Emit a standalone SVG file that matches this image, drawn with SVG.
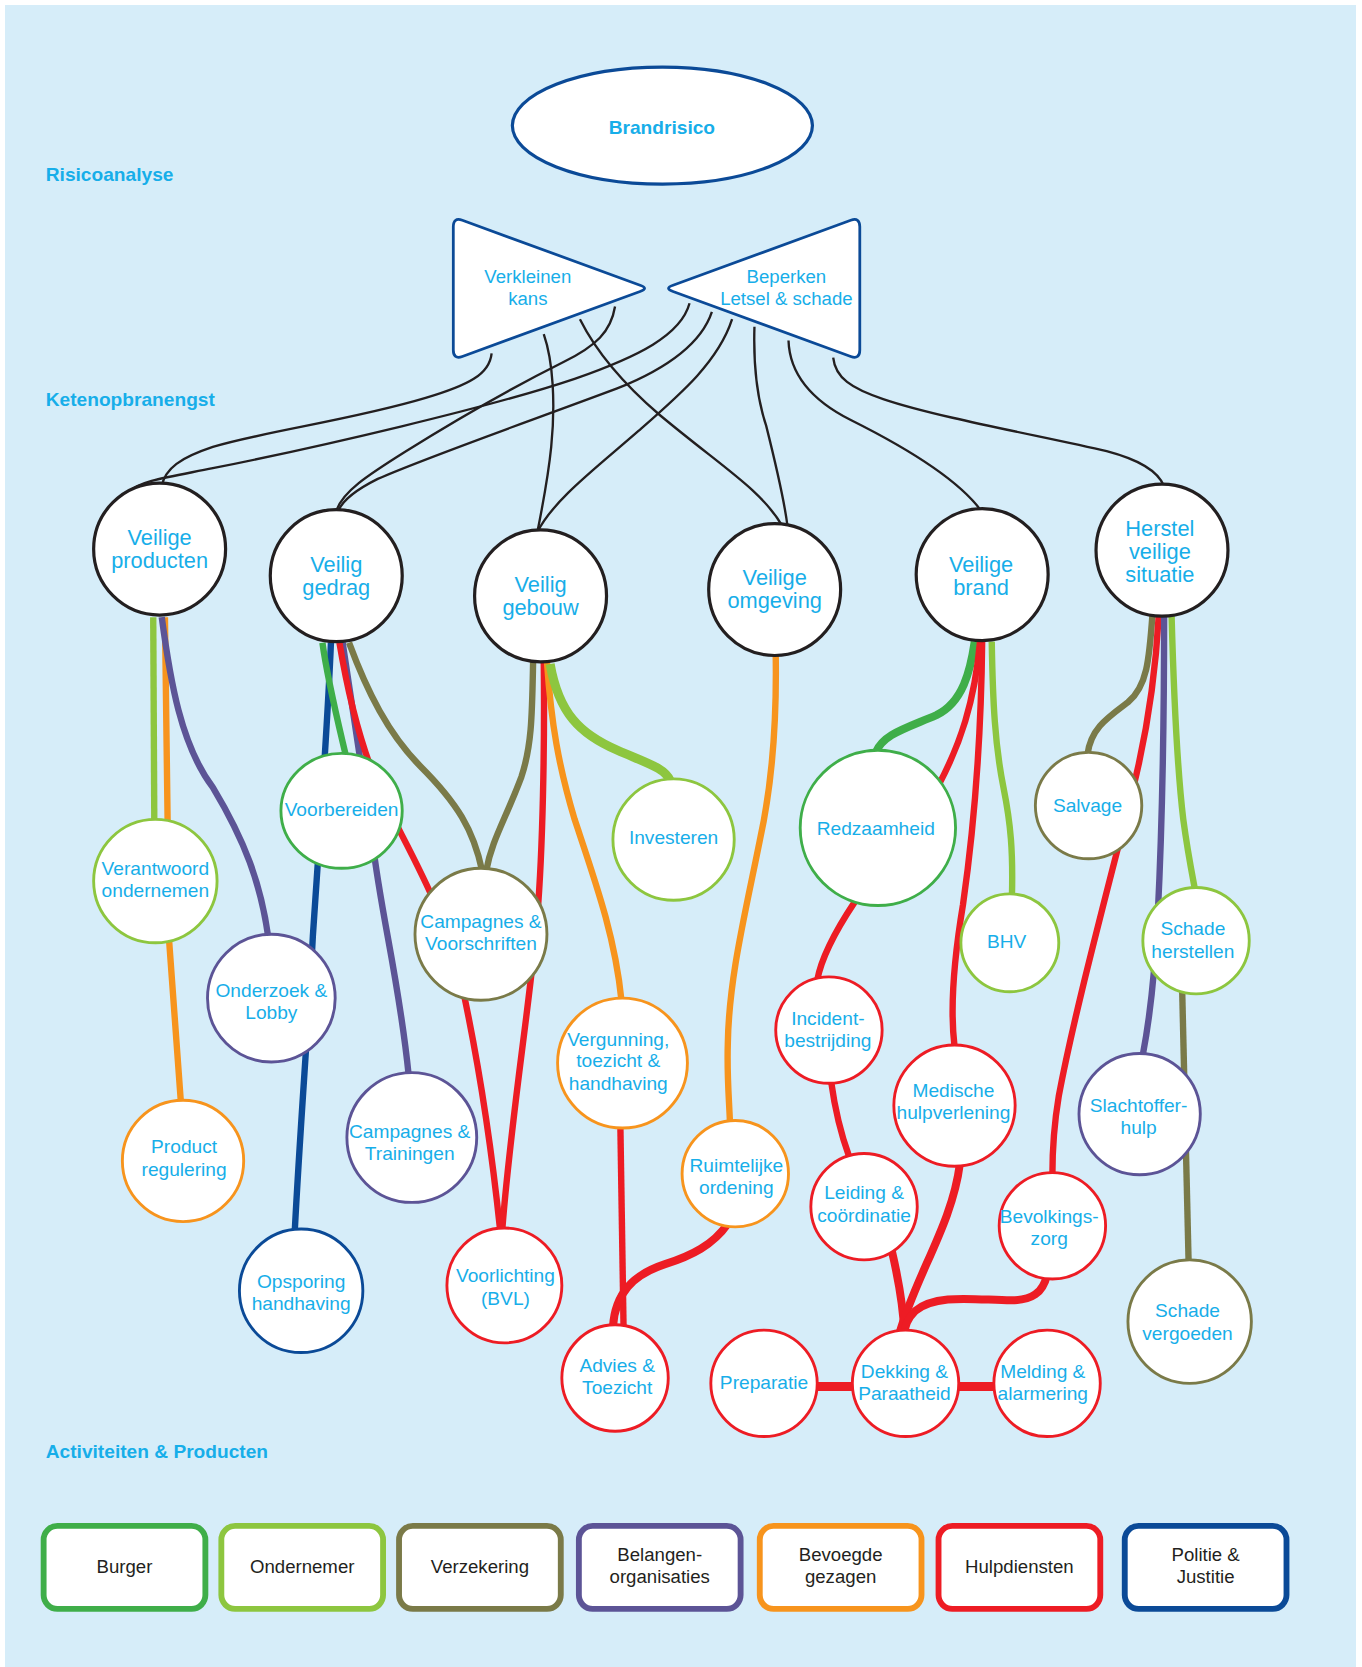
<svg xmlns="http://www.w3.org/2000/svg" width="1362" height="1667" viewBox="0 0 1362 1667">
<style>
.t{font-family:"Liberation Sans",Arial,sans-serif;fill:#17aee9;text-anchor:middle}
.t1{font-size:20.5px}
.t2{font-size:18px}
.tb{font-size:17.5px}
.sec{font-family:"Liberation Sans",Arial,sans-serif;font-size:18px;font-weight:bold;fill:#17aee9}
.lt{font-family:"Liberation Sans",Arial,sans-serif;font-size:17.5px;fill:#231f20;text-anchor:middle}
.n1{fill:#fff;stroke:#231f20;stroke-width:3}
.n{fill:#fff;stroke-width:2.7}
.lb{fill:#fff;stroke-width:5.5}
.k{fill:none;stroke:#231f20;stroke-width:2.2}
.c{fill:none;stroke-width:6}
.w7{stroke-width:7.5}
.g{stroke:#3fae49}.lg{stroke:#8dc63f}.ol{stroke:#7a7a48}.pu{stroke:#5c5496}.or{stroke:#f7941d}.rd{stroke:#ed1c24}.nv{stroke:#0b4a97}
.bt{fill:#fff;stroke:#0b4a97;stroke-width:2.6}
</style>
<rect x="0" y="0" width="1362" height="1667" fill="#fff"/>
<rect x="5" y="5" width="1351" height="1662" fill="#d6edf9"/>
<g transform="scale(1.0641)">
<g id="labels">
<text class="sec" x="43" y="170">Risicoanalyse</text>
<text class="sec" x="43" y="382">Ketenopbranengst</text>
<text class="sec" x="43" y="1370">Activiteiten &amp; Producten</text>
</g>
<g id="connectors">
<path class="k" d="M462,332 C460,352 440,362 400,374 C330,395 250,405 200,420 C170,430 155,440 152,457"/>
<path class="k" d="M648,285 C640,315 600,335 540,356 C460,383 300,420 200,440 C160,448 130,452 122,462"/>
<path class="k" d="M578,288 C574,312 560,325 530,340 C480,365 420,400 380,425 C345,447 322,462 316,480"/>
<path class="k" d="M669,293 C660,320 630,345 580,365 C500,395 400,430 355,450 C335,460 322,470 318,480"/>
<path class="k" d="M511,314 C520,340 522,380 518,420 C515,450 510,475 505,500"/>
<path class="k" d="M688,300 C675,340 640,370 600,405 C560,440 520,470 505,500"/>
<path class="k" d="M545,300 C560,330 585,360 620,390 C680,440 715,460 735,494"/>
<path class="k" d="M709,307 C708,340 710,370 720,400 C730,440 737,470 740,494"/>
<path class="k" d="M741,320 C742,350 760,375 800,395 C850,420 900,450 922,480"/>
<path class="k" d="M783,336 C785,355 800,365 830,375 C880,392 980,410 1040,424 C1070,432 1088,442 1094,457"/>
<path class="c lg" d="M144,580 L145,772"/>
<path class="c or" d="M155,580 C156,700 157,800 159,885 L170,1036"/>
<path class="c pu" d="M152,580 C160,640 170,700 200,740 C230,790 245,830 252,880"/>
<path class="c nv" d="M311,604 C308,680 300,790 294,880 C290,960 282,1060 277,1157"/>
<path class="c g" d="M303,604 C308,640 318,680 325,710"/>
<path class="c pu" d="M322,604 C330,660 340,720 350,790 C358,860 375,920 384,1010"/>
<path class="c rd" d="M319,604 C330,670 345,720 365,760 C390,810 420,860 435,930 C450,1000 462,1080 470,1156"/>
<path class="c ol" d="M328,604 C345,650 365,690 395,720 C430,755 445,780 453,818"/>
<path class="c ol" d="M501,622 C500,670 500,700 490,730 C475,770 462,790 457,818"/>
<path class="c rd" d="M511,622 C512,700 510,800 505,860 C500,930 480,1050 472,1156"/>
<path class="c or" d="M514,622 C518,680 525,720 540,770 C560,830 578,880 584,940"/>
<path class="c lg" style="stroke-width:8.5" d="M517,624 C525,670 545,690 580,705 C610,718 625,722 630,734"/>
<path class="c rd" d="M583,1058 L586,1248"/>
<path class="c rd w7" d="M684,1150 C670,1170 650,1180 625,1188 C595,1198 578,1215 576,1247"/>
<path class="c or" d="M729,616 C730,680 725,740 714,790 C700,860 685,920 684,980 C683,1010 685,1030 686,1055"/>
<path class="c g w7" d="M916,603 C912,630 905,660 880,672 C850,685 830,690 823,707"/>
<path class="c rd" d="M921,603 C916,660 902,700 882,738"/>
<path class="c rd" d="M803,848 C785,875 772,900 768,921"/>
<path class="c rd" d="M781,1016 C785,1045 790,1065 798,1087"/>
<path class="c rd w7" d="M838,1175 C845,1205 849,1230 850,1254"/>
<path class="c rd" d="M923,603 C922,700 915,780 905,850 C895,910 893,950 897,983"/>
<path class="c rd w7" d="M902,1094 C895,1150 860,1200 845,1254"/>
<path class="c lg" d="M932,603 C933,660 935,700 943,740 C950,775 952,800 951,842"/>
<path class="c ol" d="M1083,578 C1080,620 1078,645 1060,660 C1040,675 1025,685 1022,709"/>
<path class="c rd" d="M1089,578 C1085,650 1075,700 1065,740 C1040,840 1010,950 995,1030 C990,1060 989,1080 989,1104"/>
<path class="c rd w7" d="M984,1198 C980,1215 970,1222 950,1222 C920,1222 880,1215 860,1232 C852,1240 850,1248 850,1254"/>
<path class="c pu" d="M1094,578 C1094,680 1092,780 1088,860 C1085,920 1080,960 1074,991"/>
<path class="c lg" d="M1101,578 C1103,650 1106,720 1112,770 C1116,800 1120,820 1123,836"/>
<path class="c ol" d="M1111,932 C1113,1030 1115,1120 1117,1186"/>
<path class="c rd" style="stroke-width:8.5" d="M766,1303 L803,1303"/>
<path class="c rd" style="stroke-width:8.5" d="M899,1303 L937,1303"/>
</g>
<g id="brandrisico">
<ellipse cx="622.5" cy="118" rx="141" ry="55" fill="#fff" stroke="#0b4a97" stroke-width="3"/>
<text class="t" x="622" y="126" style="font-size:18px;font-weight:bold">Brandrisico</text>
</g>
<g id="verkleinen">
<path class="bt" d="M426,213 Q426,204 434.5,207 L601.5,268 Q610,271 601.5,274 L434.5,335 Q426,338 426,329 Z"/>
<text class="t tb" x="496" y="266">Verkleinen</text>
<text class="t tb" x="496" y="287">kans</text>
</g>
<g id="beperken">
<path class="bt" d="M808,213 Q808,204 799.5,207 L632.5,268 Q624,271 632.5,274 L799.5,335 Q808,338 808,329 Z"/>
<text class="t tb" x="739" y="266">Beperken</text>
<text class="t tb" x="739" y="287">Letsel &amp; schade</text>
</g>
<g id="veilige-producten"><circle class="n1" cx="150" cy="516" r="62"/><text class="t t1" x="150" y="512">Veilige</text><text class="t t1" x="150" y="533.5">producten</text></g>
<g id="veilig-gedrag"><circle class="n1" cx="316" cy="541" r="62"/><text class="t t1" x="316" y="538">Veilig</text><text class="t t1" x="316" y="559.5">gedrag</text></g>
<g id="veilig-gebouw"><circle class="n1" cx="508" cy="560" r="62"/><text class="t t1" x="508" y="556">Veilig</text><text class="t t1" x="508" y="577.5">gebouw</text></g>
<g id="veilige-omgeving"><circle class="n1" cx="728" cy="554" r="62"/><text class="t t1" x="728" y="550">Veilige</text><text class="t t1" x="728" y="571.5">omgeving</text></g>
<g id="veilige-brand"><circle class="n1" cx="923" cy="540" r="62"/><text class="t t1" x="922" y="538">Veilige</text><text class="t t1" x="922" y="559.5">brand</text></g>
<g id="herstel"><circle class="n1" cx="1092" cy="517" r="62"/><text class="t t1" x="1090" y="504">Herstel</text><text class="t t1" x="1090" y="525.5">veilige</text><text class="t t1" x="1090" y="547">situatie</text></g>
<g id="verantwoord"><circle class="n lg" cx="146" cy="828" r="58"/><text class="t t2" x="146" y="822">Verantwoord</text><text class="t t2" x="146" y="843">ondernemen</text></g>
<g id="voorbereiden"><ellipse class="n g" cx="321" cy="762" rx="57" ry="54"/><text class="t t2" x="321" y="767">Voorbereiden</text></g>
<g id="onderzoek"><circle class="n pu" cx="255" cy="938" r="60"/><text class="t t2" x="255" y="937">Onderzoek &amp;</text><text class="t t2" x="255" y="958">Lobby</text></g>
<g id="campagnes-voorschriften"><circle class="n ol" cx="452" cy="878" r="62"/><text class="t t2" x="452" y="872">Campagnes &amp;</text><text class="t t2" x="452" y="893">Voorschriften</text></g>
<g id="investeren"><circle class="n lg" cx="633" cy="789" r="57"/><text class="t t2" x="633" y="793">Investeren</text></g>
<g id="product-regulering"><circle class="n or" cx="172" cy="1091" r="57"/><text class="t t2" x="173" y="1084">Product</text><text class="t t2" x="173" y="1105">regulering</text></g>
<g id="campagnes-trainingen"><circle class="n pu" cx="387" cy="1069" r="61"/><text class="t t2" x="385" y="1069">Campagnes &amp;</text><text class="t t2" x="385" y="1090">Trainingen</text></g>
<g id="opsporing"><circle class="n nv" cx="283" cy="1213" r="58"/><text class="t t2" x="283" y="1210">Opsporing</text><text class="t t2" x="283" y="1231">handhaving</text></g>
<g id="voorlichting"><circle class="n rd" cx="474" cy="1208" r="54"/><text class="t t2" x="475" y="1205">Voorlichting</text><text class="t t2" x="475" y="1226">(BVL)</text></g>
<g id="vergunning"><circle class="n or" cx="585" cy="999" r="61"/><text class="t t2" x="581" y="983">Vergunning,</text><text class="t t2" x="581" y="1003">toezicht &amp;</text><text class="t t2" x="581" y="1024">handhaving</text></g>
<g id="advies"><circle class="n rd" cx="578" cy="1295" r="50"/><text class="t t2" x="580" y="1289">Advies &amp;</text><text class="t t2" x="580" y="1310">Toezicht</text></g>
<g id="ruimtelijke-ordening"><circle class="n or" cx="691" cy="1103" r="50"/><text class="t t2" x="692" y="1101">Ruimtelijke</text><text class="t t2" x="692" y="1122">ordening</text></g>
<g id="redzaamheid"><circle class="n g" cx="825" cy="778" r="73"/><text class="t t2" x="823" y="785">Redzaamheid</text></g>
<g id="incidentbestrijding"><circle class="n rd" cx="779" cy="968" r="50"/><text class="t t2" x="778" y="963">Incident-</text><text class="t t2" x="778" y="984">bestrijding</text></g>
<g id="bhv"><circle class="n lg" cx="949" cy="886" r="46"/><text class="t t2" x="946" y="891">BHV</text></g>
<g id="medische-hulpverlening"><circle class="n rd" cx="897" cy="1039" r="57"/><text class="t t2" x="896" y="1031">Medische</text><text class="t t2" x="896" y="1052">hulpverlening</text></g>
<g id="leiding"><circle class="n rd" cx="812" cy="1134" r="50"/><text class="t t2" x="812" y="1127">Leiding &amp;</text><text class="t t2" x="812" y="1148">coördinatie</text></g>
<g id="bevolkingszorg"><circle class="n rd" cx="989" cy="1152" r="50"/><text class="t t2" x="986" y="1149">Bevolkings-</text><text class="t t2" x="986" y="1170">zorg</text></g>
<g id="salvage"><circle class="n ol" cx="1023" cy="757" r="50"/><text class="t t2" x="1022" y="763">Salvage</text></g>
<g id="schade-herstellen"><circle class="n lg" cx="1124" cy="884" r="50"/><text class="t t2" x="1121" y="879">Schade</text><text class="t t2" x="1121" y="900">herstellen</text></g>
<g id="slachtofferhulp"><circle class="n pu" cx="1071" cy="1047" r="57"/><text class="t t2" x="1070" y="1045">Slachtoffer-</text><text class="t t2" x="1070" y="1066">hulp</text></g>
<g id="schade-vergoeden"><circle class="n ol" cx="1118" cy="1242" r="58"/><text class="t t2" x="1116" y="1238">Schade</text><text class="t t2" x="1116" y="1259">vergoeden</text></g>
<g id="preparatie"><circle class="n rd" cx="718" cy="1300" r="50"/><text class="t t2" x="718" y="1305">Preparatie</text></g>
<g id="dekking"><circle class="n rd" cx="851" cy="1300" r="50"/><text class="t t2" x="850" y="1295">Dekking &amp;</text><text class="t t2" x="850" y="1316">Paraatheid</text></g>
<g id="melding"><circle class="n rd" cx="984" cy="1300" r="50"/><text class="t t2" x="980" y="1295">Melding &amp;</text><text class="t t2" x="980" y="1316">alarmering</text></g>
<g id="legend">
<g id="lg-burger"><rect class="lb g" x="41" y="1434" width="152" height="78" rx="13"/><text class="lt" x="117" y="1478">Burger</text></g>
<g id="lg-ondernemer"><rect class="lb lg" x="208" y="1434" width="152" height="78" rx="13"/><text class="lt" x="284" y="1478">Ondernemer</text></g>
<g id="lg-verzekering"><rect class="lb ol" x="375" y="1434" width="152" height="78" rx="13"/><text class="lt" x="451" y="1478">Verzekering</text></g>
<g id="lg-belangen"><rect class="lb pu" x="544" y="1434" width="152" height="78" rx="13"/><text class="lt" x="620" y="1467">Belangen-</text><text class="lt" x="620" y="1488">organisaties</text></g>
<g id="lg-bevoegde"><rect class="lb or" x="714" y="1434" width="152" height="78" rx="13"/><text class="lt" x="790" y="1467">Bevoegde</text><text class="lt" x="790" y="1488">gezagen</text></g>
<g id="lg-hulpdiensten"><rect class="lb rd" x="882" y="1434" width="152" height="78" rx="13"/><text class="lt" x="958" y="1478">Hulpdiensten</text></g>
<g id="lg-politie"><rect class="lb nv" x="1057" y="1434" width="152" height="78" rx="13"/><text class="lt" x="1133" y="1467">Politie &amp;</text><text class="lt" x="1133" y="1488">Justitie</text></g>
</g>
</g>
</svg>
